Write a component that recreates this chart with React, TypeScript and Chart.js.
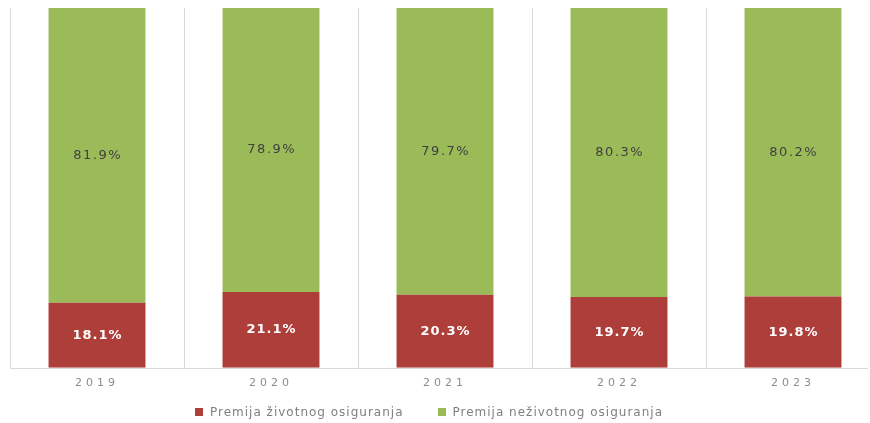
import React, { useEffect, useRef } from "react";
import { Chart, registerables } from "chart.js";

Chart.register(...registerables);

const categories = ["2019", "2020", "2021", "2022", "2023"];
const lifePremium = [18.1, 21.1, 20.3, 19.7, 19.8];
const nonLifePremium = [81.9, 78.9, 79.7, 80.3, 80.2];
const seriesNames = ["Premija životnog osiguranja", "Premija neživotnog osiguranja"];
const seriesColors = ["#AD3E3A", "#9BBB59"];
const labelColors = ["#ffffff", "#404040"];

const FONT = "'DejaVu Sans', Verdana, sans-serif";

const letterSpacingPlugin = {
  id: "tickSpacing",
  beforeDraw(chart: any) {
    (chart.ctx as any).letterSpacing = "4px";
  },
  beforeDatasetsDraw(chart: any) {
    (chart.ctx as any).letterSpacing = "0px";
  },
};

const baseLinePlugin = {
  id: "baseLine",
  beforeDatasetsDraw(chart: any) {
    const { ctx, chartArea } = chart;
    ctx.save();
    ctx.fillStyle = "#d9d9d9";
    ctx.fillRect(chartArea.left, Math.round(chartArea.bottom), 858, 1);
    ctx.restore();
  },
};

const dataLabelPlugin = {
  id: "segLabels",
  afterDatasetsDraw(chart: any) {
    const ctx = chart.ctx;
    chart.data.datasets.forEach((ds: any, di: number) => {
      const meta = chart.getDatasetMeta(di);
      meta.data.forEach((el: any, i: number) => {
        const v = ds.data[i];
        const y = (el.y + el.base) / 2;
        ctx.save();
        (ctx as any).letterSpacing = di === 0 ? "1px" : "1.5px";
        ctx.font = (di === 0 ? "bold " : "") + "13px " + FONT;
        ctx.fillStyle = labelColors[di];
        ctx.textAlign = "center";
        ctx.textBaseline = "middle";
        ctx.fillText(v.toFixed(1) + "%", el.x + (di === 0 ? 0.5 : 0.75), y);
        ctx.restore();
      });
    });
  },
};

export default function App() {
  const ref = useRef<HTMLCanvasElement | null>(null);
  useEffect(() => {
    if (!ref.current) return;
    const chart = new Chart(ref.current, {
      type: "bar",
      data: {
        labels: categories,
        datasets: [
          {
            label: seriesNames[0],
            data: lifePremium,
            backgroundColor: seriesColors[0],
            categoryPercentage: 1,
            barPercentage: 0.557,
          },
          {
            label: seriesNames[1],
            data: nonLifePremium,
            backgroundColor: seriesColors[1],
            categoryPercentage: 1,
            barPercentage: 0.557,
          },
        ],
      },
      options: {
        animation: false,
        responsive: false,
        layout: { padding: { left: 10, right: 10, top: 8, bottom: 24 } },
        plugins: {
          legend: { display: false },
          tooltip: { enabled: false },
        },
        scales: {
          x: {
            stacked: true,
            grid: {
              offset: true,
              color: (c: any) => (c.index >= categories.length ? "rgba(0,0,0,0)" : "#d9d9d9"),
              drawTicks: false,
              lineWidth: 1,
            },
            border: { display: false },
            ticks: {
              color: "#8c8c8c",
              padding: 9,
              font: { family: FONT, size: 11 },
            },
          },
          y: {
            stacked: true,
            display: false,
            min: 0,
            max: 100,
          },
        },
      },
      plugins: [letterSpacingPlugin, baseLinePlugin, dataLabelPlugin],
    });
    return () => chart.destroy();
  }, []);

  return (
    <div
      style={{
        position: "fixed",
        left: 0,
        top: 0,
        width: 870,
        height: 423,
        overflow: "hidden",
        background: "#fff",
      }}
    >
      <canvas
        ref={ref}
        width={890}
        height={423}
        style={{ position: "absolute", left: 0, top: 0, display: "block" }}
      />
      <div
        style={{
          position: "absolute",
          left: -6,
          top: 404,
          width: 870,
          display: "flex",
          justifyContent: "center",
          gap: 34,
          fontFamily: FONT,
          fontSize: 12,
          letterSpacing: "1px",
          color: "#7f7f7f",
          lineHeight: "16px",
        }}
      >
        {seriesNames.map((n, i) => (
          <div key={n} style={{ display: "flex", alignItems: "center" }}>
            <span
              style={{
                display: "inline-block",
                width: 8,
                height: 8,
                background: seriesColors[i],
                marginRight: 7,
              }}
            />
            <span>{n}</span>
          </div>
        ))}
      </div>
    </div>
  );
}
